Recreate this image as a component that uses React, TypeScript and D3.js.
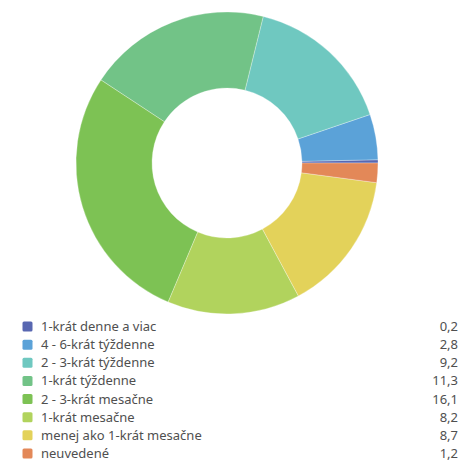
import React from "react";
import * as d3 from "d3";

const categories = [
  "1-krát denne a viac",
  "4 - 6-krát týždenne",
  "2 - 3-krát týždenne",
  "1-krát týždenne",
  "2 - 3-krát mesačne",
  "1-krát mesačne",
  "menej ako 1-krát mesačne",
  "neuvedené",
];
const values = [0.2, 2.8, 9.2, 11.3, 16.1, 8.2, 8.7, 1.2];
const valueLabels = ["0,2", "2,8", "9,2", "11,3", "16,1", "8,2", "8,7", "1,2"];
const colors = [
  "#5867b1",
  "#5ba2d8",
  "#6fc8c0",
  "#72c387",
  "#7dc254",
  "#b1d35d",
  "#e3d25a",
  "#e38858",
];

const W = 461;
const H = 462;
const cx = 227;
const cy = 163;
const outerR = 151;
const innerR = 75;

export default function App() {
  // slices run counter-clockwise starting at 3 o'clock
  const pie = d3
    .pie<number>()
    .sort(null)
    .startAngle(Math.PI / 2)
    .endAngle(Math.PI / 2 - 2 * Math.PI);
  const arcs = pie(values);
  const arc = d3.arc<d3.PieArcDatum<number>>().innerRadius(innerR).outerRadius(outerR);

  const rowY = d3
    .scalePoint<number>()
    .domain(d3.range(categories.length))
    .range([326.5, 453.5]);

  return (
    <svg
      width={W}
      height={H}
      style={{ position: "absolute", left: 0, top: 0 }}
      fontFamily="'Noto Sans', sans-serif"
    >
      <g transform={`translate(${cx},${cy})`}>
        {arcs.map((a, i) => (
          <path key={i} d={arc(a) || ""} fill={colors[i]} stroke="#ffffff" strokeWidth={0.3} />
        ))}
      </g>
      <g>
        {categories.map((c, i) => {
          const y = rowY(i)!;
          return (
            <g key={c}>
              <rect x={22.5} y={y - 5} width={10} height={10} rx={1.5} fill={colors[i]} />
              <text x={41} y={y} dy="0.35em" fontSize={13} fill="#4f4f4f">
                {c}
              </text>
              <text x={458} y={y} dy="0.35em" fontSize={13} fill="#4f4f4f" textAnchor="end">
                {valueLabels[i]}
              </text>
            </g>
          );
        })}
      </g>
    </svg>
  );
}
